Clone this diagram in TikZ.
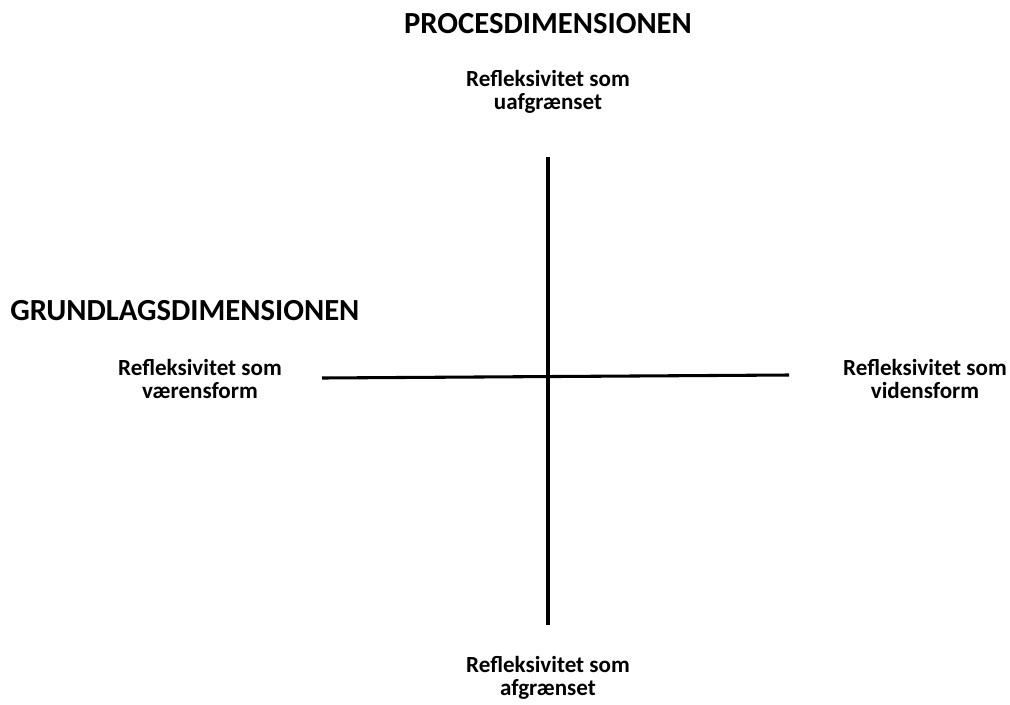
\documentclass[tikz,border=0pt]{standalone}
\usepackage{fontspec}
\setmainfont{Carlito}
\usepackage{tikz}
\tikzstyle{heading}=[font=\fontsize{23}{26}\selectfont\bfseries,inner sep=0pt]
\tikzstyle{pole}=[font=\fontsize{17.3}{17.3}\selectfont\bfseries,align=center,inner sep=0pt]
\tikzstyle{axis}=[line width=2.3pt,black]
\newcommand{\pxunit}{0.75pt}

\begin{document}
\begin{tikzpicture}[x=\pxunit,y=-\pxunit]
    \useasboundingbox (0,0) rectangle (1010,704);
    \node[heading] (proc) at (548,24) {PROCESDIMENSIONEN};
    \node[heading,anchor=west] (grund) at (10,311) {GRUNDLAGSDIMENSIONEN};
    \node[pole] (uafg) at (548,92) {Refleksivitet som\\uafgrænset};
    \node[pole] (afg) at (548,678) {Refleksivitet som\\afgrænset};
    \node[pole] (vaer) at (200,379) {Refleksivitet som\\værensform};
    \node[pole] (viden) at (925,379) {Refleksivitet som\\vidensform};
%    ends of the two axes
    \coordinate (top) at (548,157);
    \coordinate (bot) at (548,625);
    \coordinate (left) at (322,378);
    \coordinate (right) at (789,375);
    \draw[axis] (top) -- (bot);
    \draw[axis] (left) -- (right);
\end{tikzpicture}
\end{document}
